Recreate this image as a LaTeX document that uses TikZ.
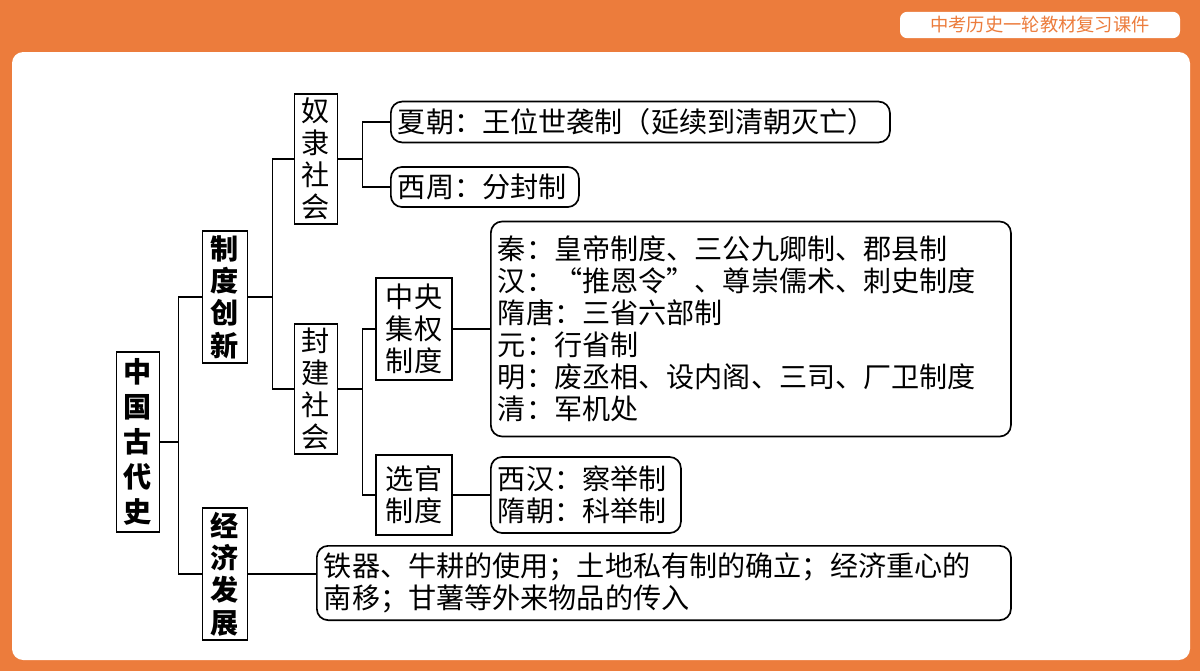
\documentclass[tikz,border=0pt]{standalone}
\usepackage{fontspec}
\setmainfont{Noto Sans CJK SC}
\usetikzlibrary{calc}
\definecolor{bgorange}{RGB}{236,124,60}
\tikzset{
  cbox/.style={draw, line width=1.2pt, inner sep=3pt, align=center, font=\fontsize{20}{22.7}\selectfont},
  rbox/.style={draw, line width=1.2pt, rounded corners=8pt, inner sep=5pt, align=left, anchor=west, font=\fontsize{20}{22.7}\selectfont},
  link/.style={line width=1.2pt}
}
\begin{document}
\begin{tikzpicture}[x=0.025cm,y=-0.025cm]
\fill[bgorange] (0,0) rectangle (1200,671);
\fill[white, rounded corners=8pt] (12,52) rectangle (1190,660);
\node[fill=white, rounded corners=5pt, minimum width=280*0.025cm, minimum height=26*0.025cm,
  font=\fontsize{13}{15}\selectfont, text=bgorange] (course) at (1040,25) {中考历史一轮教材复习课件};

% tree
\node[cbox, minimum width=43*0.025cm, minimum height=180*0.025cm, font=\fontsize{20}{25}\selectfont\bfseries] (root) at (138,442) {中\\国\\古\\代\\史};
\node[cbox, minimum width=45*0.025cm, minimum height=124*0.025cm, font=\fontsize{20}{23}\selectfont\bfseries] (zd) at (225,297) {制\\度\\创\\新};
\node[cbox, minimum width=45*0.025cm, minimum height=124*0.025cm, font=\fontsize{20}{23}\selectfont\bfseries] (jj) at (225,574) {经\\济\\发\\展};
\node[cbox, minimum width=43*0.025cm, minimum height=126*0.025cm] (nl) at (316,159) {奴\\隶\\社\\会};
\node[cbox, minimum width=43*0.025cm, minimum height=126*0.025cm] (fj) at (316,389) {封\\建\\社\\会};
\node[cbox, minimum width=76*0.025cm, minimum height=102*0.025cm] (zy) at (414,329) {中央\\集权\\制度};
\node[cbox, minimum width=76*0.025cm, minimum height=80*0.025cm] (xg) at (414,495) {选官\\制度};

% leaves
\node[rbox, minimum height=40*0.025cm, text width=485*0.025cm] (xia) at (390,122) {夏朝：王位世袭制（延续到清朝灭亡）};
\node[rbox, minimum height=40*0.025cm, text width=174*0.025cm] (xz) at (390,187) {西周：分封制};
\node[rbox, minimum height=215*0.025cm, text width=506*0.025cm] (zyt) at (490,329) {秦：皇帝制度、三公九卿制、郡县制\\汉：“推恩令”、尊崇儒术、刺史制度\\隋唐：三省六部制\\元：行省制\\明：废丞相、设内阁、三司、厂卫制度\\清：军机处};
\node[rbox, minimum height=76*0.025cm, text width=176*0.025cm] (kj) at (490,495) {西汉：察举制\\隋朝：科举制};
\node[rbox, minimum height=72*0.025cm, text width=680*0.025cm] (econ) at (316,583) {铁器、牛耕的使用；土地私有制的确立；经济重心的\\南移；甘薯等外来物品的传入};

% connectors
\draw[link] (root.east) -- ++(18,0) |- (zd.west);
\draw[link] (root.east) -- ++(18,0) |- (jj.west);
\draw[link] (zd.east) -- ++(24,0) |- (nl.west);
\draw[link] (zd.east) -- ++(24,0) |- (fj.west);
\draw[link] (nl.east) -- ++(24,0) |- (xia.west);
\draw[link] (nl.east) -- ++(24,0) |- (xz.west);
\draw[link] (fj.east) -- ++(24,0) |- (zy.west);
\draw[link] (fj.east) -- ++(24,0) |- (xg.west);
\draw[link] (zy.east) -- (zyt.west);
\draw[link] (xg.east) -- (kj.west);
\draw[link] (jj.east) -- (jj.east -| econ.west);
\end{tikzpicture}
\end{document}
